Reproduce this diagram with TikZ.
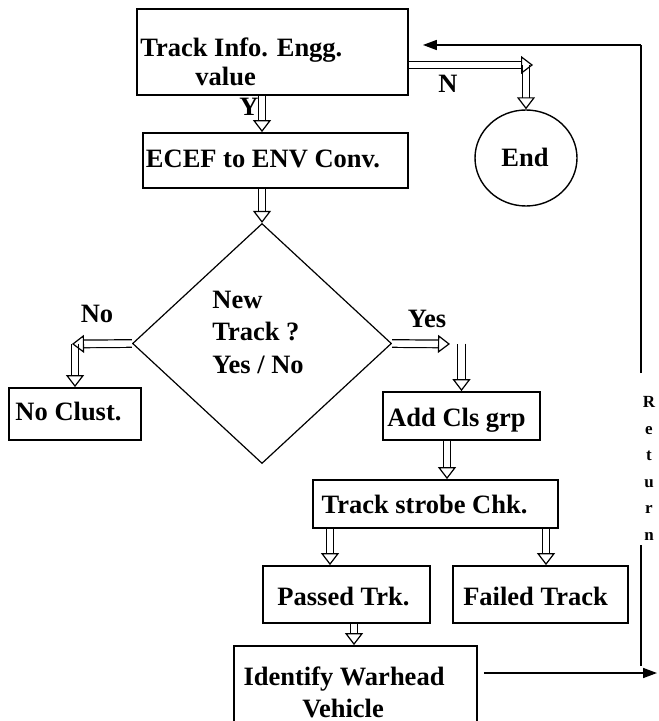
\documentclass[tikz,border=0pt]{standalone}
\usepackage{fontspec}
\setmainfont{Liberation Serif}
\usetikzlibrary{arrows.meta,shapes.geometric,calc}
\begin{document}
\begin{tikzpicture}[x=0.5pt,y=-0.5pt,
  box/.style={draw,line width=0.9pt,rectangle,inner sep=0pt},
  txt/.style={font=\fontsize{13.25}{14.5}\selectfont\bfseries,inner sep=0pt,anchor=base},
  dbl/.style={double,double distance=3.2pt,line width=0.6pt,-{Triangle[open,length=6pt,width=9pt]}},
  ret/.style={line width=0.8pt},
  rettip/.style={ret,-{Triangle[length=7pt,width=5pt]}}]
\useasboundingbox (0,0) rectangle (658,721);
\clip (0,0) rectangle (658,721);
% columns
\coordinate (cA) at (447,0);
\coordinate (cB) at (330,0);
\coordinate (cC) at (546,0);
\coordinate (cD) at (354,0);
\coordinate (nN) at (533,65);
\coordinate (nW) at (72,344);
\coordinate (yE) at (450,344);
% boxes
\node[box,minimum width=135.5pt,minimum height=43pt] (b1) at (272.5,52) {};
\node[txt,anchor=west,align=left] (b1t) at (140,62) {Track Info. Engg.\\\hspace*{27.5pt}value};
\node[box,minimum width=132.5pt,minimum height=27.5pt] (ecef) at (275.5,160.5) {};
\node[txt] (ecef-t) at (263,168) {ECEF to ENV Conv.};
\node[draw,ellipse,line width=0.7pt,minimum width=51pt,minimum height=48pt,inner sep=0pt] (end) at (526,158) {};
\node[txt] (end-t) at (525,167) {End};
\node[draw,diamond,line width=0.6pt,minimum width=129.5pt,minimum height=120pt,inner sep=0pt] (dia) at (262,343.5) {};
\node[txt,anchor=west,align=left,font=\fontsize{13.25}{16.25}\selectfont\bfseries] (dia-t) at (212,332) {New\\Track ?\\Yes / No};
\node[box,minimum width=66pt,minimum height=26pt] (nocl) at (75,414) {};
\node[txt] (nocl-t) at (68.5,420) {No Clust.};
\node[box,minimum width=78.5pt,minimum height=24pt] (addcls) at (461.5,416) {};
\node[txt] (addcls-t) at (456.5,426) {Add Cls grp};
\node[box,minimum width=122.5pt,minimum height=24pt] (strobe) at (435.5,504) {};
\node[txt] (strobe-t) at (424.5,513) {Track strobe Chk.};
\node[box,minimum width=83.5pt,minimum height=28.5pt] (passed) at (346.5,594.5) {};
\node[txt] (passed-t) at (343.5,605) {Passed Trk.};
\node[box,minimum width=87.5pt,minimum height=28.5pt] (failed) at (540.5,594.5) {};
\node[txt] (failed-t) at (535.5,605) {Failed Track};
\node[box,minimum width=121.5pt,minimum height=47pt] (ident) at (355.5,693) {};
\node[txt] (ident-t1) at (344,685) {Identify Warhead};
\node[txt] (ident-t2) at (343,717) {Vehicle};
% labels
\node[txt] (lY) at (249,116) {Y};
\node[txt] (lN) at (448,93) {N};
\node[txt] (lNo) at (97,322) {No};
\node[txt] (lYes) at (427,327) {Yes};
\node[font=\fontsize{8.5}{13.25}\selectfont\bfseries,inner sep=0pt,align=center,anchor=north] (lRet) at (649,396) {R\\e\\t\\u\\r\\n};
% hollow arrows
\draw[dbl] (b1.south -| dia.north) -- (ecef.north -| dia.north);
\draw[dbl] (end.north |- nN) -- (end.north);
\draw[dbl] (b1.east |- nN) -- (nN);
\draw[dbl] (ecef.south -| dia.north) -- (dia.north);
\draw[dbl] (nocl.north |- dia.west) -- (nocl.north);
\draw[dbl] (dia.west) -- (nW);
\draw[dbl] (addcls.north |- dia.east) -- (addcls.north);
\draw[dbl] (dia.east) -- (yE);
\draw[dbl] (addcls.south -| cA) -- (strobe.north -| cA);
\draw[dbl] (strobe.south -| cB) -- (passed.north -| cB);
\draw[dbl] (strobe.south -| cC) -- (failed.north -| cC);
\draw[dbl] (passed.south -| cD) -- (ident.north -| cD);
% return loop
\coordinate (rTop) at (641,45);
\coordinate (rMid1) at (641,373);
\coordinate (rMid2) at (641,545);
\coordinate (rBot) at (641,666);
\coordinate (rTip) at (657,673);
\draw[rettip,shorten <=3pt] (ident.east |- rTip) -- (rTip);
\draw[ret] (rBot) -- (rMid2);
\draw[ret] (rMid1) -- (rTop);
\draw[rettip,shorten >=7pt] (rTop) -- (b1.east |- rTop);
\end{tikzpicture}
\end{document}
